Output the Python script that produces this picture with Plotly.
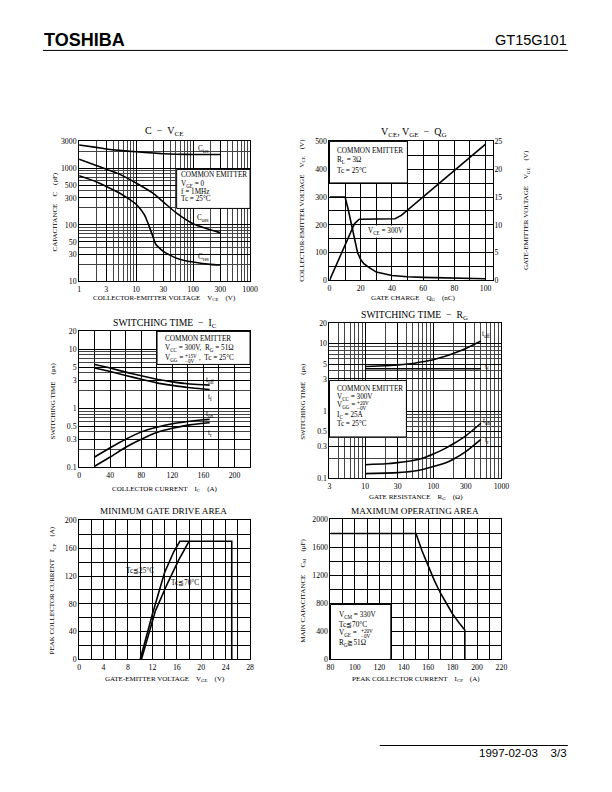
import math
import plotly.graph_objects as go

FW, FH = 612, 792
# empirical correction of the photographed page geometry
SX, OX = 0.975, 6.3
SY, OY = 0.9885, 3.6
SERIF = "Liberation Serif"
SANS = "Liberation Sans"
NB = "\u00a0"

# ---------------- data ----------------
# Panel 1: C - VCE (log-log)
cies_vce = [1, 2, 3, 5, 10, 20, 30, 50, 100, 200, 300]
cies_pf = [2600, 2350, 2200, 2080, 1970, 1870, 1820, 1780, 1760, 1760, 1760]
coes_vce = [1, 2, 3, 5, 10, 20, 30, 50, 100, 200, 300]
coes_pf = [1450, 1130, 970, 800, 550, 360, 255, 165, 105, 82, 73]
cres_vce = [1, 2, 3, 5, 7, 10, 12, 14, 15, 16, 18, 20, 22, 25, 30, 40, 50, 70, 100, 200, 300]
cres_pf = [740, 580, 480, 370, 300, 232, 190, 150, 130, 110, 80, 60, 46, 40, 34, 29, 26, 23.5, 22, 20, 19.5]

# Panel 2: VCE, VGE - QG
qg_vce = [0, 10, 12, 14, 16, 18, 20, 22, 25, 30, 40, 50, 60, 80, 100]
vce_qg = [300, 300, 255, 200, 145, 100, 75, 60, 48, 30, 18, 13, 11, 8, 6]
qg_vge = [0, 16, 19, 42, 46, 100]
vge_qg = [0, 10.2, 11, 11.1, 11.7, 24.5]

# Panel 3: switching time - IC
ic_a = [20, 40, 60, 80, 100, 120, 140, 160, 168]
toff_ic = [5.5, 4.8, 4.1, 3.55, 3.1, 2.8, 2.6, 2.5, 2.47]
tf_ic = [4.8, 4.2, 3.6, 3.1, 2.7, 2.45, 2.25, 2.12, 2.08]
ton_ic = [0.15, 0.215, 0.3, 0.4, 0.48, 0.55, 0.6, 0.64, 0.65]
tr_ic = [0.105, 0.15, 0.22, 0.3, 0.39, 0.46, 0.52, 0.56, 0.57]

# Panel 4: switching time - RG
rg_ohm = [10, 20, 30, 50, 70, 100, 150, 200, 300, 500]
toff_rg = [4.6, 4.7, 4.85, 5.1, 5.4, 5.8, 6.5, 7.2, 8.5, 11.0]
tf_rg_x = [10, 500]
tf_rg = [4.25, 4.25]
ton_rg = [0.16, 0.165, 0.172, 0.185, 0.2, 0.23, 0.28, 0.33, 0.43, 0.66]
tr_rg = [0.118, 0.12, 0.122, 0.128, 0.136, 0.15, 0.17, 0.195, 0.25, 0.38]

# Panel 5: minimum gate drive area
vge_25 = [10, 12, 14, 15.5, 16.5, 25, 25]
icp_25 = [0, 65, 125, 155, 170, 170, 0]
vge_70 = [10.2, 12.5, 14.5, 16.3, 18]
icp_70 = [0, 70, 110, 143, 170]

# Panel 6: maximum operating area
icp_m = [80, 150, 155, 160, 165, 170, 175, 180, 185, 190, 190]
cm_uf = [1800, 1800, 1550, 1330, 1130, 950, 790, 650, 530, 420, 0]

# tick labels
c_vce_xticks = [1, 3, 10, 30, 100, 300, 1000]
c_vce_yticks = [10, 30, 50, 100, 300, 500, 1000, 3000]
sw_yticks = [0.1, 0.3, 0.5, 1, 3, 5, 10, 20]
rg_xticks = [3, 10, 30, 100, 300, 1000]


def minor_log(lo_dec, hi_dec, majors):
    vals = []
    for d in range(lo_dec, hi_dec):
        for m in range(2, 10):
            v = round(m * 10 ** d, 6)
            if v not in majors:
                vals.append(v)
    return vals


def PX(x):
    return ((x - OX) / SX) / FW


def PY(y):
    return 1 - ((y - OY) / SY) / FH


def dom(x0, x1, y0, y1):
    return [PX(x0), PX(x1)], [PY(y1), PY(y0)]


TICKFONT = dict(family=SERIF, size=7.8, color="black")
BASE = dict(showline=True, mirror=True, linecolor="black", linewidth=1, ticks="",
            showgrid=True, gridcolor="black", gridwidth=0.8, zeroline=False,
            tickfont=TICKFONT, fixedrange=True)
MINOR_COLOR = "#444"


def log_axis(domain, lo, hi, ticks, minors, anchor):
    return dict(BASE, type="log", domain=domain, anchor=anchor,
                range=[math.log10(lo), math.log10(hi)],
                tickmode="array", tickvals=ticks, ticktext=[str(t) for t in ticks],
                minor=dict(tickmode="array", tickvals=minors, showgrid=True,
                           gridcolor=MINOR_COLOR, gridwidth=0.6, ticks=""))


def lin_axis(domain, lo, hi, dt, mdt, anchor):
    return dict(BASE, domain=domain, anchor=anchor, range=[lo, hi],
                tick0=lo, dtick=dt,
                minor=dict(dtick=mdt, tick0=lo, showgrid=True, gridcolor="black",
                           gridwidth=0.8, ticks=""))


fig = go.Figure()
LINE = dict(color="black", width=1.6)


def add(x, y, xa, ya, shape="spline"):
    fig.add_trace(go.Scatter(x=x, y=y, mode="lines",
                             line=dict(LINE, shape=shape, smoothing=0.6),
                             xaxis=xa, yaxis=ya, showlegend=False, hoverinfo="skip"))


add(cies_vce, cies_pf, "x", "y")
add(coes_vce, coes_pf, "x", "y")
add(cres_vce, cres_pf, "x", "y")
add(qg_vce, vce_qg, "x2", "y2", "linear")
add(qg_vge, vge_qg, "x2", "y7", "linear")
add(ic_a, toff_ic, "x3", "y3")
add(ic_a, tf_ic, "x3", "y3")
add(ic_a, ton_ic, "x3", "y3")
add(ic_a, tr_ic, "x3", "y3")
add(rg_ohm, toff_rg, "x4", "y4")
add(tf_rg_x, tf_rg, "x4", "y4", "linear")
add(rg_ohm, ton_rg, "x4", "y4")
add(rg_ohm, tr_rg, "x4", "y4")
add(vge_25, icp_25, "x5", "y5", "linear")
add(vge_70, icp_70, "x5", "y5", "linear")
add(icp_m, cm_uf, "x6", "y6", "linear")

# domains (pixel positions on the page)
d1x, d1y = dom(81, 251, 141, 281)
d2x, d2y = dom(330, 493, 141, 280)
d3x, d3y = dom(81, 251, 331, 467)
d4x, d4y = dom(330, 501, 323, 478)
d5x, d5y = dom(81, 251, 520, 659)
d6x, d6y = dom(331, 501, 519, 659)

layout = dict(
    width=FW, height=FH, margin=dict(l=0, r=0, t=0, b=0),
    paper_bgcolor="white", plot_bgcolor="white", showlegend=False,
    font=dict(family=SERIF, color="black"),
    xaxis=log_axis(d1x, 1, 1000, c_vce_xticks, minor_log(0, 3, c_vce_xticks), "y"),
    yaxis=log_axis(d1y, 10, 3000, c_vce_yticks, minor_log(1, 4, c_vce_yticks), "x"),
    xaxis2=lin_axis(d2x, 0, 105, 20, 10, "y2"),
    yaxis2=lin_axis(d2y, 0, 500, 100, 50, "x2"),
    yaxis7=dict(BASE, domain=d2y, anchor="x2", overlaying="y2", side="right",
                range=[0, 25], dtick=5, showgrid=False, showline=False),
    xaxis3=lin_axis(d3x, 0, 220, 40, 20, "y3"),
    yaxis3=log_axis(d3y, 0.1, 20, sw_yticks, minor_log(-1, 2, sw_yticks), "x3"),
    xaxis4=log_axis(d4x, 3, 1000, rg_xticks, [v for v in minor_log(0, 3, rg_xticks) if v > 3], "y4"),
    yaxis4=log_axis(d4y, 0.1, 20, sw_yticks, minor_log(-1, 2, sw_yticks), "x4"),
    xaxis5=lin_axis(d5x, 0, 28, 4, 2, "y5"),
    yaxis5=lin_axis(d5y, 0, 200, 40, 20, "x5"),
    xaxis6=lin_axis(d6x, 80, 220, 20, 10, "y6"),
    yaxis6=lin_axis(d6y, 0, 2000, 400, 200, "x6"),
)
fig.update_layout(**layout)

shapes = []
ann = []


def pbox(x0, y0, x1, y1):
    shapes.append(dict(type="rect", xref="paper", yref="paper", x0=PX(x0), x1=PX(x1),
                       y0=PY(y1), y1=PY(y0), fillcolor="white",
                       line=dict(color="black", width=1), layer="above"))


def pline(x0, y0, x1, y1):
    shapes.append(dict(type="line", xref="paper", yref="paper", x0=PX(x0), x1=PX(x1),
                       y0=PY(y0), y1=PY(y1), line=dict(color="black", width=1)))


def ptext(x, y, s, size=7.2, xanchor="left", font=SERIF, angle=0):
    ann.append(dict(xref="paper", yref="paper", x=PX(x), y=PY(y), text=s, showarrow=False,
                    xanchor=xanchor, yanchor="middle", textangle=angle, borderpad=0,
                    font=dict(family=font, size=size, color="black")))


def dtext(xref, yref, x, y, s, size=7.2, xanchor="center", bg=None):
    a = dict(xref=xref, yref=yref, x=x, y=y, text=s, showarrow=False,
             xanchor=xanchor, yanchor="middle",
             font=dict(family=SERIF, size=size, color="black"))
    if bg:
        a["bgcolor"] = bg
    ann.append(a)


def sp(n):
    return NB * n


# header / footer
ptext(45, 40, "<b>TOSHIBA</b>", size=18, font=SANS)
ptext(567, 40, "GT15G101", size=14.5, font=SANS, xanchor="right")
pline(45, 50, 567, 50)
ptext(567, 752, "1997-02-03" + sp(4) + "3/3", size=11.5, font=SANS, xanchor="right")
pline(380, 745, 567, 745)

# titles
ptext(165, 131, "C" + sp(2) + "−" + sp(2) + "V<sub>CE</sub>", size=10, xanchor="center")
ptext(414, 132, "V<sub>CE</sub>, V<sub>GE</sub>" + sp(2) + "−" + sp(2) + "Q<sub>G</sub>", size=10, xanchor="center")
ptext(166, 323, "SWITCHING TIME" + sp(2) + "−" + sp(2) + "I<sub>C</sub>", size=9.7, xanchor="center")
ptext(415, 315, "SWITCHING TIME" + sp(2) + "−" + sp(2) + "R<sub>G</sub>", size=9.7, xanchor="center")
ptext(165, 511, "MINIMUM GATE DRIVE AREA", size=9.2, xanchor="center")
ptext(415, 511, "MAXIMUM OPERATING AREA", size=9.2, xanchor="center")

# x axis titles
ptext(166, 298, "COLLECTOR-EMITTER VOLTAGE" + sp(4) + "V<sub>CE</sub>" + sp(4) + "(V)", size=7, xanchor="center")
ptext(414, 298, "GATE CHARGE" + sp(4) + "Q<sub>G</sub>" + sp(4) + "(nC)", size=7, xanchor="center")
ptext(166, 489, "COLLECTOR CURRENT" + sp(4) + "I<sub>C</sub>" + sp(4) + "(A)", size=7, xanchor="center")
ptext(416, 497, "GATE RESISTANCE" + sp(4) + "R<sub>G</sub>" + sp(4) + "(Ω)", size=7, xanchor="center")
ptext(166, 679, "GATE-EMITTER VOLTAGE" + sp(4) + "V<sub>GE</sub>" + sp(4) + "(V)", size=7, xanchor="center")
ptext(416, 679, "PEAK COLLECTOR CURRENT" + sp(4) + "I<sub>CP</sub>" + sp(4) + "(A)", size=7, xanchor="center")

# y axis titles
ptext(57, 211, "CAPACITANCE" + sp(4) + "C" + sp(4) + "(pF)", size=7, xanchor="center", angle=-90)
ptext(303, 210, "COLLECTOR-EMITTER VOLTAGE" + sp(4) + "V<sub>CE</sub>" + sp(4) + "(V)", size=7, xanchor="center", angle=-90)
ptext(526, 210, "GATE-EMITTER VOLTAGE" + sp(4) + "V<sub>GE</sub>" + sp(4) + "(V)", size=7, xanchor="center", angle=-90)
ptext(55, 400, "SWITCHING TIME" + sp(4) + "(μs)", size=7, xanchor="center", angle=-90)
ptext(304, 401, "SWITCHING TIME" + sp(4) + "(μs)", size=7, xanchor="center", angle=-90)
ptext(55, 590, "PEAK COLLECTOR CURRENT" + sp(4) + "I<sub>CP</sub>" + sp(4) + "(A)", size=7, xanchor="center", angle=-90)
ptext(304, 590, "MAIN CAPACITANCE" + sp(4) + "C<sub>M</sub>" + sp(4) + "(μF)", size=7, xanchor="center", angle=-90)

# panel 1 box + labels
pbox(178, 169, 251, 208)
ptext(181, 175, "COMMON EMITTER")
ptext(181, 184, "V<sub>GE</sub> = 0")
ptext(181, 191.5, "f = 1MHz")
ptext(181, 199, "Tc = 25°C")
dtext("x", "y", math.log10(150), math.log10(2200), "C<sub>ies</sub>")
dtext("x", "y", math.log10(150), math.log10(131), "C<sub>oes</sub>")
dtext("x", "y", math.log10(150), math.log10(27), "C<sub>res</sub>")

# panel 2 box + labels
pbox(330, 141, 407.5, 182.5)
ptext(336, 151, "COMMON EMITTER")
ptext(336, 160.5, "R<sub>L</sub> = 3Ω")
ptext(336, 170.5, "Tc = 25°C")
dtext("x2", "y2", 36, 175, "V<sub>CE</sub> = 300V", bg="white")

# panel 3 box + labels
pbox(158.5, 331, 251, 364)
ptext(165, 339, "COMMON EMITTER")
ptext(165, 348.5, "V<sub>CC</sub> = 300V,  R<sub>G</sub> = 51Ω")
ptext(165, 358, "V<sub>GG</sub> =")
ptext(185, 355.2, "+15V", size=5.2)
ptext(185, 360.2, "−0V", size=5.2)
ptext(199, 358, ",  Tc = 25°C")
dtext("x3", "y3", 169, math.log10(2.95), "t<sub>off</sub>")
dtext("x3", "y3", 169, math.log10(1.5), "t<sub>f</sub>")
dtext("x3", "y3", 169, math.log10(0.78), "t<sub>on</sub>")
dtext("x3", "y3", 169, math.log10(0.37), "t<sub>r</sub>")

# panel 4 box + labels
pbox(330, 380, 406.5, 436.5)
ptext(336, 389, "COMMON EMITTER")
ptext(336, 397, "V<sub>CC</sub> = 300V")
ptext(336, 405.5, "V<sub>GG</sub> =")
ptext(356, 402.7, "+20V", size=5.2)
ptext(356, 407.7, "−0V", size=5.2)
ptext(336, 415, "I<sub>C</sub> = 25A")
ptext(336, 423.5, "Tc = 25°C")
dtext("x4", "y4", math.log10(600), math.log10(13.5), "t<sub>off</sub>")
dtext("x4", "y4", math.log10(620), math.log10(4.5), "t<sub>f</sub>")
dtext("x4", "y4", math.log10(620), math.log10(0.7), "t<sub>on</sub>")
dtext("x4", "y4", math.log10(620), math.log10(0.37), "t<sub>r</sub>")

# panel 5 labels
dtext("x5", "y5", 9.9, 128, "Tc≦25°C")
dtext("x5", "y5", 17.3, 110, "Tc≦70°C")

# panel 6 box + labels
pbox(331, 604, 391, 659)
ptext(338, 615, "V<sub>CM</sub> = 330V")
ptext(338, 624.5, "Tc≦70°C")
ptext(338, 633.5, "V<sub>GE</sub> =")
ptext(360, 630.7, "+20V", size=5.2)
ptext(360, 635.7, "−0V", size=5.2)
ptext(338, 643.5, "R<sub>G</sub>≧51Ω")

fig.update_layout(shapes=shapes, annotations=ann)
fig.write_html("out.html", config={"displayModeBar": False},
               post_script="document.body.style.margin='0';document.body.style.overflow='hidden';")
